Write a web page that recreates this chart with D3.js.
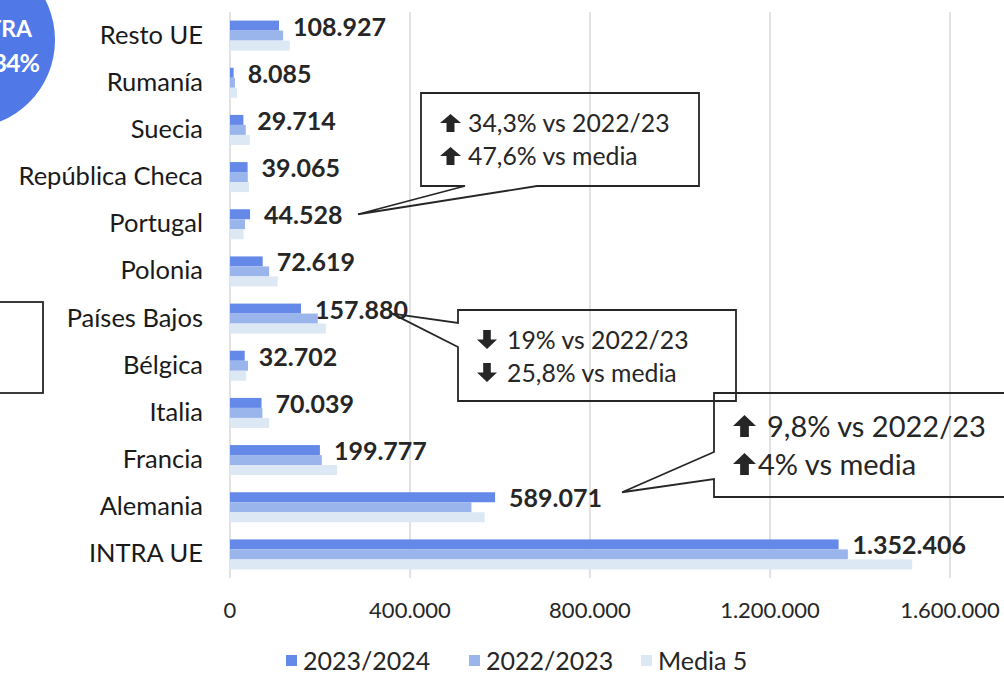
<!DOCTYPE html>
<html>
<head>
<meta charset="utf-8">
<script src="https://cdn.jsdelivr.net/npm/d3@7"></script>
<style>
  html, body { margin: 0; padding: 0; background: #fff; }
  svg { display: block; font-family: Lato, "Noto Sans", sans-serif; }
</style>
</head>
<body>
<svg id="figure" width="1004" height="674"></svg>
<script>
// categories top -> bottom
const categories = ["Resto UE", "Rumanía", "Suecia", "República Checa", "Portugal", "Polonia",
  "Países Bajos", "Bélgica", "Italia", "Francia", "Alemania", "INTRA UE"];
const seriesNames = ["2023/2024", "2022/2023", "Media 5"];
const values2324 = [108927, 8085, 29714, 39065, 44528, 72619, 157880, 32702, 70039, 199777, 589071, 1352406];
const values2223 = [118000, 11000, 35000, 39500, 33200, 87000, 195000, 40000, 72000, 204000, 536500, 1373000];
const valuesMedia5 = [133000, 15500, 44000, 42000, 30200, 106000, 213000, 36000, 87000, 238000, 566000, 1516000];
const xTicks = [0, 400000, 800000, 1200000, 1600000];

// callout notes
const calloutCategories = ["Portugal", "Países Bajos", "Alemania"];
const calloutLines = [
  [["up", "34,3% vs 2022/23"], ["up", "47,6% vs media"]],
  [["down", "19% vs 2022/23"], ["down", "25,8% vs media"]],
  [["up", "9,8% vs 2022/23"], ["up", "4% vs media"]]
];

const colors = ["#6589e8", "#9ab4ec", "#dde8f5"];
const seriesValues = [values2324, values2223, valuesMedia5];

const svg = d3.select("#figure");

const locale = d3.formatLocale({decimal: ",", thousands: ".", grouping: [3], currency: ["", "€"]});
const fmt = locale.format(",d");

const x = d3.scaleLinear().domain([0, 1600000]).range([230, 950]);
const y = d3.scaleBand().domain(categories).range([12, 578])
  .paddingInner(0.364).paddingOuter(0.182);
const ySub = d3.scaleBand().domain(seriesNames).range([0, y.bandwidth()]);

// gridlines
svg.append("g")
  .selectAll("line")
  .data(xTicks)
  .join("line")
  .attr("x1", d => x(d)).attr("x2", d => x(d))
  .attr("y1", 12).attr("y2", 578)
  .attr("stroke", "#d9d9d9")
  .attr("stroke-width", 1.5);

// tick labels
svg.append("g")
  .selectAll("text")
  .data(xTicks)
  .join("text")
  .attr("x", d => x(d))
  .attr("y", 618)
  .attr("text-anchor", "middle")
  .attr("font-size", 22)
  .attr("fill", "#262626")
  .text(d => fmt(d));

// bars
const rows = categories.map((c, i) => ({cat: c, vals: seriesValues.map(s => s[i])}));

const groups = svg.append("g")
  .selectAll("g")
  .data(rows)
  .join("g")
  .attr("transform", d => "translate(0," + y(d.cat) + ")");

groups.selectAll("rect")
  .data(d => d.vals.map((v, k) => ({key: seriesNames[k], v: v, k: k})))
  .join("rect")
  .attr("x", x(0))
  .attr("y", d => ySub(d.key))
  .attr("width", d => x(d.v) - x(0))
  .attr("height", ySub.bandwidth())
  .attr("fill", d => colors[d.k]);

// data labels (2023/2024)
groups.append("text")
  .attr("x", d => x(d.vals[0]) + 14)
  .attr("y", ySub(seriesNames[0]) + 15)
  .attr("font-size", 25)
  .attr("font-weight", "bold")
  .attr("fill", "#262626")
  .text(d => fmt(d.vals[0]));

// category labels
svg.append("g")
  .selectAll("text")
  .data(categories)
  .join("text")
  .attr("x", 203)
  .attr("y", d => y(d) + y.bandwidth() / 2 + 8)
  .attr("text-anchor", "end")
  .attr("font-size", 25.5)
  .attr("fill", "#1a1a1a")
  .text(d => d);

// legend
const legendX = [286, 469, 641];
const legend = svg.append("g")
  .selectAll("g")
  .data(seriesNames)
  .join("g")
  .attr("transform", (d, i) => "translate(" + legendX[i] + ",0)");
legend.append("rect")
  .attr("x", 0).attr("y", 655)
  .attr("width", 11).attr("height", 11)
  .attr("fill", (d, i) => colors[i]);
legend.append("text")
  .attr("x", 17).attr("y", 670)
  .attr("font-size", 25)
  .attr("fill", "#262626")
  .text(d => d);

// ---- annotations ----
function arrowPath(x0, top, w, h, dir) {
  const sw = w * 0.38, hh = h * 0.5, cx = x0 + w / 2;
  if (dir === "up") {
    return `M${cx},${top} L${x0 + w},${top + hh} L${cx + sw / 2},${top + hh} L${cx + sw / 2},${top + h}` +
      ` L${cx - sw / 2},${top + h} L${cx - sw / 2},${top + hh} L${x0},${top + hh} Z`;
  }
  const b = top + h;
  return `M${cx},${b} L${x0 + w},${b - hh} L${cx + sw / 2},${b - hh} L${cx + sw / 2},${top}` +
    ` L${cx - sw / 2},${top} L${cx - sw / 2},${b - hh} L${x0},${b - hh} Z`;
}

// box + wedge, tip offset relative to the data label bar
function calloutPath(b, tip) {
  if (b.side === "bottom") {
    return `M${b.x0},${b.y0} H${b.x1} V${b.y1} H${b.w[1]} L${tip[0]},${tip[1]} L${b.w[0]},${b.y1} H${b.x0} Z`;
  }
  return `M${b.x0},${b.y0} H${b.x1} V${b.y1} H${b.x0} V${b.w[1]} L${tip[0]},${tip[1]} L${b.x0},${b.w[0]} Z`;
}

const boxes = [
  {x0: 421, y0: 93, x1: 699, y1: 186, side: "bottom", w: [465, 537], tipDx: 108, tipDy: 5,
    textX: 468, base: [132, 165], ax: 440, aw: 21, ah: 18, fs: 24.8},
  {x0: 458, y0: 310, x1: 736, y1: 401, side: "left", w: [323, 347], tipDx: 91, tipDy: 10,
    textX: 507, base: [349, 382], ax: 477, aw: 20, ah: 19, fs: 24.8},
  {x0: 714, y0: 393, x1: 1012, y1: 497, side: "left", w: [452, 479], tipDx: 127, tipDy: 0,
    textX: [767, 758], base: [437, 475], ax: 733, aw: 23, ah: 22, fs: 29}
];

const ann = svg.append("g");
calloutCategories.forEach((cat, i) => {
  const b = boxes[i];
  const v = values2324[categories.indexOf(cat)];
  const tip = [x(v) + b.tipDx, y(cat) + ySub(seriesNames[0]) + b.tipDy];
  ann.append("path")
    .attr("d", calloutPath(b, tip))
    .attr("fill", "none")
    .attr("stroke", "#262626")
    .attr("stroke-width", 1.8)
    .attr("stroke-linejoin", "miter");
  calloutLines[i].forEach((ln, j) => {
    ann.append("path")
      .attr("d", arrowPath(b.ax, b.base[j] - b.ah, b.aw, b.ah, ln[0]))
      .attr("fill", "#262626");
    ann.append("text")
      .attr("x", Array.isArray(b.textX) ? b.textX[j] : b.textX)
      .attr("y", b.base[j])
      .attr("font-size", b.fs)
      .attr("fill", "#262626")
      .text(ln[1]);
  });
});

// box cut at left edge
ann.append("rect")
  .attr("x", -10).attr("y", 302)
  .attr("width", 53).attr("height", 91)
  .attr("fill", "none")
  .attr("stroke", "#262626")
  .attr("stroke-width", 1.8);

// blue badge, top-left corner (cut by the picture edge)
ann.append("circle")
  .attr("cx", -33).attr("cy", 40).attr("r", 88)
  .attr("fill", "#5078e6");
ann.append("text")
  .attr("x", 32).attr("y", 37)
  .attr("text-anchor", "end")
  .attr("font-size", 23).attr("font-weight", "bold")
  .attr("fill", "#fff")
  .text("INTRA");
ann.append("text")
  .attr("x", 39).attr("y", 72)
  .attr("text-anchor", "end")
  .attr("font-size", 25).attr("font-weight", "bold")
  .attr("letter-spacing", -1)
  .attr("fill", "#fff")
  .text("34%");
</script>
</body>
</html>
